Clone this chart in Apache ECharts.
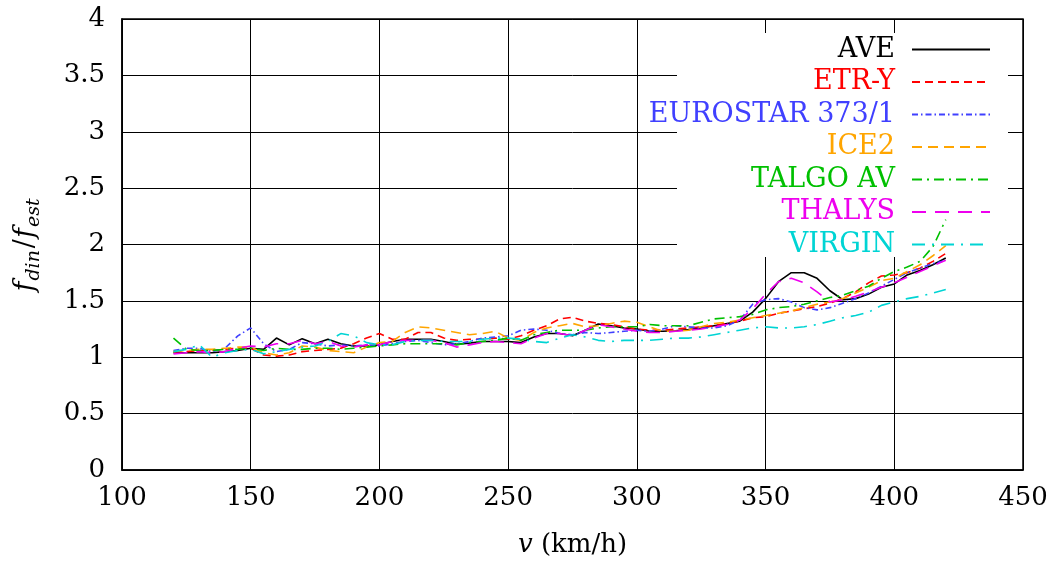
<!DOCTYPE html>
<html>
<head>
<meta charset="utf-8">
<script src="https://cdn.jsdelivr.net/npm/echarts@6/dist/echarts.min.js"></script>
<style>
  html, body { margin: 0; padding: 0; background: #fff; }
  #chart { width: 1051px; height: 567px; }
</style>
</head>
<body>
<div id="chart"></div>
<script>
// Speed samples (km/h)
const speeds = [120,125,130,135,140,145,150,155,160,165,170,175,180,185,190,195,200,205,210,215,
  220,225,230,235,240,245,250,255,260,265,270,275,280,285,290,295,300,305,310,315,
  320,325,330,335,340,345,350,355,360,365,370,375,380,385,390,395,400,405,410,415,420];

// Dynamic amplification factor f_din / f_est per train
const ave = [1.04,1.04,1.04,1.04,1.05,1.06,1.08,1.07,1.17,1.11,1.165,1.12,1.16,1.12,1.10,1.10,1.11,1.14,1.16,1.16,
  1.16,1.14,1.115,1.125,1.14,1.14,1.14,1.13,1.18,1.21,1.21,1.19,1.24,1.295,1.28,1.26,1.25,1.23,1.23,1.235,
  1.245,1.26,1.28,1.30,1.32,1.40,1.52,1.67,1.75,1.75,1.70,1.59,1.51,1.52,1.56,1.62,1.65,1.73,1.77,1.82,1.88];
const etrY = [1.05,1.05,1.06,1.06,1.07,1.08,1.08,1.02,1.01,1.02,1.05,1.06,1.07,1.08,1.12,1.17,1.21,1.16,1.16,1.22,
  1.22,1.17,1.15,1.16,1.16,1.17,1.16,1.19,1.24,1.28,1.34,1.355,1.32,1.30,1.29,1.27,1.25,1.24,1.24,1.25,
  1.26,1.27,1.28,1.30,1.32,1.35,1.36,1.39,1.41,1.43,1.45,1.48,1.52,1.58,1.66,1.72,1.73,1.75,1.79,1.85,1.92];
const eurostar = [1.06,1.08,1.08,1.05,1.08,1.19,1.26,1.12,1.05,1.07,1.13,1.12,1.10,1.11,1.10,1.11,1.10,1.12,1.14,1.15,
  1.13,1.11,1.12,1.14,1.17,1.18,1.19,1.24,1.25,1.24,1.21,1.20,1.22,1.21,1.22,1.23,1.24,1.23,1.25,1.28,
  1.27,1.26,1.26,1.28,1.33,1.47,1.51,1.52,1.49,1.44,1.42,1.44,1.48,1.52,1.57,1.63,1.69,1.75,1.79,1.83,1.86];
const ice2 = [1.05,1.06,1.07,1.07,1.08,1.09,1.09,1.04,1.02,1.04,1.10,1.09,1.06,1.05,1.04,1.09,1.13,1.14,1.22,1.27,
  1.26,1.24,1.22,1.20,1.21,1.23,1.17,1.15,1.22,1.26,1.28,1.30,1.27,1.28,1.30,1.32,1.31,1.27,1.23,1.23,
  1.24,1.27,1.30,1.31,1.33,1.35,1.37,1.39,1.41,1.44,1.47,1.49,1.52,1.57,1.62,1.68,1.70,1.76,1.82,1.90,1.99];
const talgo = [1.17,1.07,1.06,1.06,1.07,1.07,1.08,1.06,1.08,1.07,1.07,1.08,1.08,1.07,1.08,1.09,1.10,1.11,1.12,1.12,
  1.12,1.12,1.11,1.13,1.14,1.15,1.17,1.15,1.20,1.22,1.24,1.24,1.24,1.26,1.27,1.27,1.27,1.29,1.28,1.28,
  1.28,1.31,1.34,1.35,1.36,1.38,1.42,1.44,1.45,1.47,1.50,1.53,1.55,1.59,1.63,1.70,1.76,1.80,1.85,1.98,2.22];
const thalys = [1.03,1.04,1.05,1.04,1.05,1.08,1.10,1.09,1.12,1.12,1.15,1.12,1.14,1.10,1.09,1.11,1.11,1.14,1.15,1.15,
  1.15,1.13,1.09,1.11,1.13,1.14,1.13,1.12,1.17,1.21,1.21,1.19,1.24,1.29,1.27,1.25,1.23,1.22,1.22,1.23,
  1.24,1.25,1.27,1.29,1.33,1.43,1.56,1.67,1.70,1.66,1.58,1.49,1.51,1.54,1.58,1.62,1.66,1.71,1.76,1.81,1.86];
const virgin = [1.05,1.07,1.11,1.00,1.04,1.06,1.07,1.03,1.05,1.07,1.09,1.10,1.14,1.21,1.19,1.13,1.11,1.11,1.14,1.15,
  1.15,1.14,1.14,1.14,1.16,1.17,1.17,1.16,1.14,1.13,1.17,1.20,1.18,1.15,1.14,1.15,1.15,1.15,1.16,1.17,
  1.17,1.18,1.20,1.22,1.24,1.26,1.27,1.26,1.26,1.27,1.29,1.32,1.35,1.37,1.40,1.46,1.49,1.52,1.54,1.57,1.60];

const trainNames = ['AVE', 'ETR-Y', 'EUROSTAR 373/1', 'ICE2', 'TALGO AV', 'THALYS', 'VIRGIN'];
const trainValues = [ave, etrY, eurostar, ice2, talgo, thalys, virgin];
const trainColors = ['#000000', '#ff0000', '#4040ff', '#ffa500', '#00c000', '#ee00ee', '#00d4d4'];
const trainDashes = ['solid', [8, 5], [6, 3, 1.5, 3], [10, 6], [10, 5, 2, 5], [14, 9], [13, 7, 2, 7]];

const xTicks = { min: 100, max: 450, step: 50 };
const yTicks = { min: 0, max: 4, step: 0.5 };

const FONT = 'DejaVu Serif';

const chart = echarts.init(document.getElementById('chart'), null, { renderer: 'canvas' });

const series = trainNames.map((name, i) => ({
  name: name,
  type: 'line',
  data: speeds.map((v, k) => [v, trainValues[i][k]]),
  showSymbol: false,
  symbol: 'none',
  z: 3,
  lineStyle: { color: trainColors[i], width: 1.6, type: trainDashes[i] },
  itemStyle: { color: trainColors[i] },
  silent: true
}));

chart.setOption({
  animation: false,
  backgroundColor: '#ffffff',
  textStyle: { fontFamily: FONT },
  grid: {
    left: 122, right: 28, top: 19, bottom: 97,
    outerBoundsMode: 'none',
    show: true, borderColor: '#000', borderWidth: 1.5, backgroundColor: 'transparent'
  },
  // white key panel that hides the grid behind the legend
  graphic: [{
    type: 'rect',
    z: 1,
    shape: { x: 677, y: 33, width: 331, height: 224 },
    style: { fill: '#ffffff' },
    silent: true
  }],
  legend: {
    orient: 'vertical',
    align: 'right',
    right: 60,
    top: 34,
    itemWidth: 78,
    itemHeight: 14,
    itemGap: 1.5,
    padding: 0,
    selectedMode: false,
    itemStyle: { opacity: 0 },
    textStyle: { fontFamily: FONT, fontSize: 27, lineHeight: 31, padding: [0, 12, 0, 0] },
    data: trainNames.map((n, i) => ({ name: n, textStyle: { color: trainColors[i] } }))
  },
  xAxis: {
    type: 'value',
    min: xTicks.min, max: xTicks.max, interval: xTicks.step,
    name: '{i|v} (km/h)',
    nameLocation: 'middle',
    nameGap: 62,
    nameTextStyle: {
      fontFamily: FONT, fontSize: 26, color: '#000',
      rich: {
        i: { fontFamily: FONT, fontSize: 26, fontStyle: 'italic', color: '#000' }
      }
    },
    axisLine: { show: true, lineStyle: { color: '#000', width: 1.5 } },
    axisTick: { show: true, inside: true, length: 12, lineStyle: { color: '#000' } },
    axisLabel: { fontFamily: FONT, fontSize: 26, color: '#000', margin: 15 },
    splitLine: { show: true, lineStyle: { color: '#000', width: 1 } }
  },
  yAxis: {
    type: 'value',
    min: yTicks.min, max: yTicks.max, interval: yTicks.step,
    name: '{f|f}{s|din}{n|/}{f|f}{s|est}',
    nameLocation: 'middle',
    nameGap: 78,
    nameTextStyle: {
      fontFamily: FONT, color: '#000',
      rich: {
        f: { fontFamily: FONT, fontSize: 27, fontStyle: 'italic', color: '#000', lineHeight: 36, verticalAlign: 'middle', padding: [0, 1, 0, 0] },
        s: { fontFamily: FONT, fontSize: 19, fontStyle: 'italic', color: '#000', lineHeight: 36, verticalAlign: 'bottom', padding: [0, 1, 0, 0] },
        n: { fontFamily: FONT, fontSize: 27, color: '#000', lineHeight: 36, verticalAlign: 'middle', padding: [0, 1, 0, 1] }
      }
    },
    axisLine: { show: true, lineStyle: { color: '#000', width: 1.5 } },
    axisTick: { show: true, inside: true, length: 12, lineStyle: { color: '#000' } },
    axisLabel: { fontFamily: FONT, fontSize: 26, color: '#000', margin: 17 },
    splitLine: { show: true, lineStyle: { color: '#000', width: 1 } }
  },
  series: series
});
</script>
</body>
</html>
